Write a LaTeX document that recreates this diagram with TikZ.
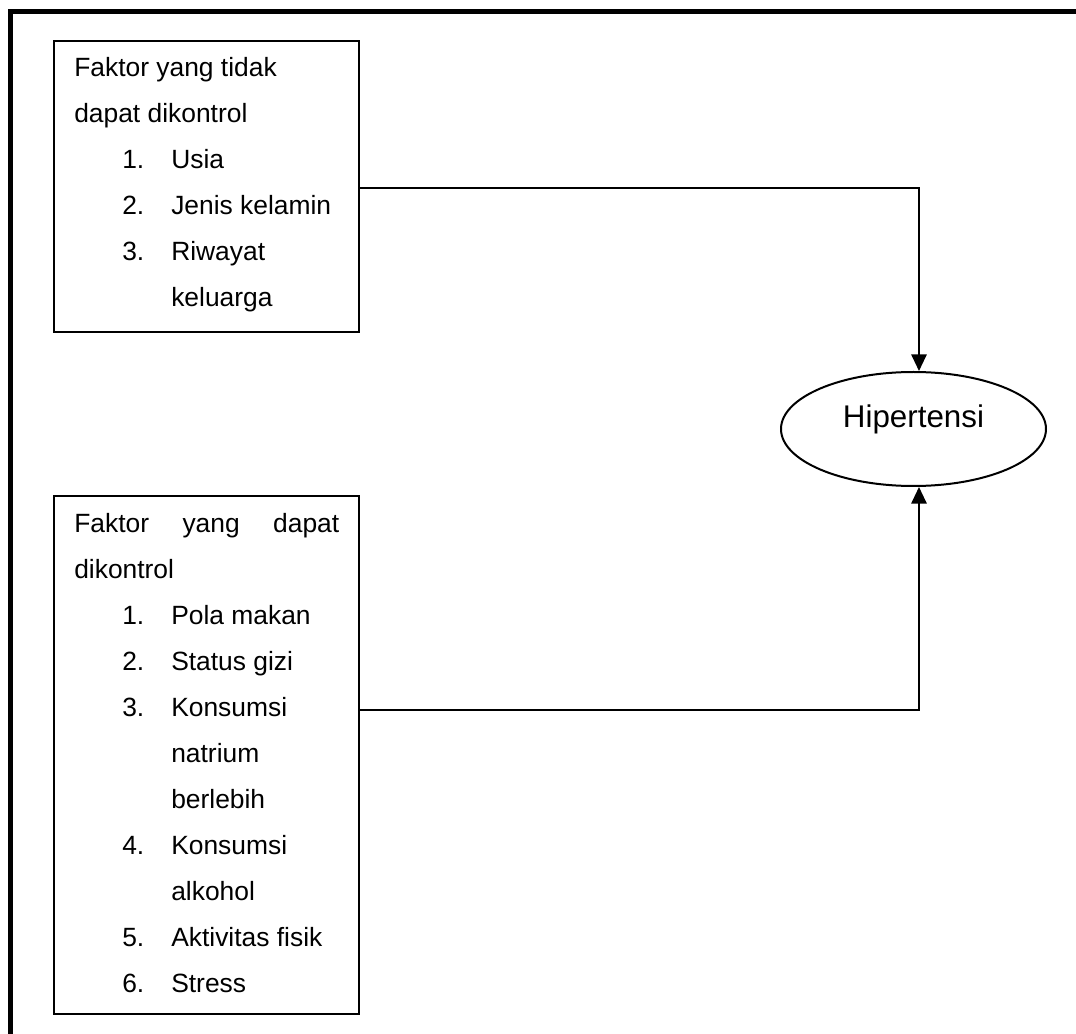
\documentclass[tikz,border=0pt]{standalone}
\usepackage{fontspec}
\setmainfont{Liberation Sans}
\usetikzlibrary{shapes.geometric,arrows.meta}

% list helpers: numbered item and continuation line
\newcommand{\numitem}[2]{\hspace*{36pt}\makebox[36.75pt][l]{#1}#2}
\newcommand{\contline}[1]{\hspace*{72.75pt}#1}

\begin{document}
\begin{tikzpicture}[x=0.75pt,y=-0.75pt,
  factorbox/.style={draw,line width=1.5pt,rectangle,inner sep=0pt,anchor=north west},
  listtext/.style={inner sep=0pt,anchor=north west,align=left,
    font=\fontsize{19.8pt}{34.5pt}\selectfont},
  outcome/.style={draw,line width=1.5pt,ellipse,inner sep=0pt,
    minimum width=198.75pt,minimum height=85.5pt,
    text height=4pt,text depth=5.5pt,font=\fontsize{23.5pt}{28pt}\selectfont},
  conn/.style={line width=1.5pt,-{Triangle[width=11.5pt,length=12.5pt]}}]

\useasboundingbox (0,0) rectangle (1076,1034);

% outer frame (top and left edges)
\draw[line width=3.75pt] (10.5,1034) -- (10.5,11.5) -- (1076,11.5);

% uncontrollable factors
\node[factorbox,minimum width=228.75pt,minimum height=218.25pt] (b1) at (53,40) {};
\node[listtext] (t1) at (74,57) {Faktor yang tidak\\
dapat dikontrol\\
\numitem{1.}{Usia}\\
\numitem{2.}{Jenis kelamin}\\
\numitem{3.}{Riwayat}\\
\contline{keluarga}};

% controllable factors
\node[factorbox,minimum width=228.75pt,minimum height=388.5pt] (b2) at (53,495) {};
\node[listtext] (t2) at (74,513) {\makebox[198.75pt][s]{Faktor yang dapat}\\
dikontrol\\
\numitem{1.}{Pola makan}\\
\numitem{2.}{Status gizi}\\
\numitem{3.}{Konsumsi}\\
\contline{natrium}\\
\contline{berlebih}\\
\numitem{4.}{Konsumsi}\\
\contline{alkohol}\\
\numitem{5.}{Aktivitas fisik}\\
\numitem{6.}{Stress}};

% outcome
\node[outcome] (hip) at (913.5,429) {Hipertensi};

% connectors
\coordinate (k1) at (919,188);
\coordinate (k2) at (919,710);
\draw[conn] (b1.east |- k1) -- (k1) -- (k1 |- hip.north);
\draw[conn] (b2.east |- k2) -- (k2) -- (k2 |- hip.south);

\end{tikzpicture}
\end{document}
